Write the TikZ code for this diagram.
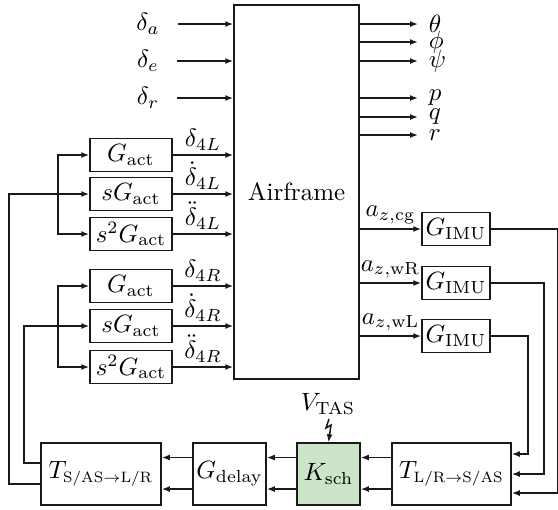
\documentclass[tikz,border=0pt]{standalone}
\usepackage{amsmath}
\usepackage{amssymb}
\usepackage{xcolor}
\definecolor{SchedGreen}{RGB}{204,228,200}
\definecolor{LineBlack}{RGB}{25,25,25}
\usepackage{tikz}
\usetikzlibrary{
    arrows.meta,
    positioning,
    calc
}
\newcommand{\tsub}[1]{\scalebox{0.86}{$\scriptstyle #1$}}

\begin{document}
\begin{tikzpicture}[
    x=0.4pt,y=-0.4pt,
    line width=0.6pt,
    draw=LineBlack,
    >={Latex[length=3.2pt,width=2.4pt]},
    blockbox/.style={
        draw,
        inner sep=0pt,
        minimum width=32.8pt,
        minimum height=13.2pt
    },
    imubox/.style={
        blockbox,
        minimum width=27.2pt
    },
    chainbox/.style={
        draw,
        inner sep=0pt,
        minimum height=24.8pt
    },
    sigin/.style={
        inner sep=0pt
    },
    sigout/.style={
        inner sep=0pt,
        anchor=west
    },
    sigabove/.style={
        midway,
        above,
        inner sep=1.6pt
    }
]
%
    \useasboundingbox (0,0) rectangle (558,509);
%
    \node[
        draw,
        inner sep=0pt,
        minimum width=50pt,
        minimum height=149.6pt
    ] (air) at (296.5,192) {Airframe};
%
    % control surface inputs
    \node[sigin] (da) at (148,24) {$\delta_a$};
    \node[sigin] (de) at (148,61) {$\delta_e$};
    \node[sigin] (dr) at (148,98) {$\delta_r$};
    \foreach \s in {da,de,dr}
        \draw[->, shorten <=7pt] (\s.east) -- (\s -| air.west);
%
    % outputs
    \node[sigout] (theta) at (428,24) {$\theta$};
    \node[sigout] (phi) at (428,42) {$\phi$};
    \node[sigout] (psi) at (428,61) {$\psi$};
    \node[sigout] (pp) at (428,98) {$p$};
    \node[sigout] (qq) at (428,117) {$q$};
    \node[sigout] (rr) at (428,135) {$r$};
    \foreach \s in {theta,phi,psi,pp,qq,rr}
        \draw[->, shorten >=4pt] (\s.west -| air.east) -- (\s.west);
%
    % actuators, left
    \node[blockbox] (GL) at (131,155) {$G_{\text{act}}$};
    \node[blockbox] (sGL) at (131,194) {$sG_{\text{act}}$};
    \node[blockbox] (ssGL) at (131,234) {$s^2G_{\text{act}}$};
    \draw[->] (GL.east) -- (GL -| air.west) node[sigabove] {$\delta_{4L}$};
    \draw[->] (sGL.east) -- (sGL -| air.west) node[sigabove] {$\dot{\delta}_{4L}$};
    \draw[->] (ssGL.east) -- (ssGL -| air.west) node[sigabove] {$\ddot{\delta}_{4L}$};
%
    % actuators, right
    \node[blockbox] (GR) at (131,286) {$G_{\text{act}}$};
    \node[blockbox] (sGR) at (131,326) {$sG_{\text{act}}$};
    \node[blockbox] (ssGR) at (131,367) {$s^2G_{\text{act}}$};
    \draw[->] (GR.east) -- (GR -| air.west) node[sigabove] {$\delta_{4R}$};
    \draw[->] (sGR.east) -- (sGR -| air.west) node[sigabove] {$\dot{\delta}_{4R}$};
    \draw[->] (ssGR.east) -- (ssGR -| air.west) node[sigabove] {$\ddot{\delta}_{4R}$};
%
    \coordinate (brL) at (58,194);
    \coordinate (brR) at (58,326);
    \draw[->] (brL) |- (GL.west);
    \draw[->] (brL) |- (ssGL.west);
    \draw[->] (brR) |- (GR.west);
    \draw[->] (brR) |- (ssGR.west);
%
    % sensors
    \node[imubox] (imuCG) at (456,229) {$G_{\text{IMU}}$};
    \node[imubox] (imuWR) at (456,283) {$G_{\text{IMU}}$};
    \node[imubox] (imuWL) at (456,336) {$G_{\text{IMU}}$};
    \draw[->] (imuCG -| air.east) -- (imuCG.west) node[sigabove] {$a_{z,\text{cg}}$};
    \draw[->] (imuWR -| air.east) -- (imuWR.west) node[sigabove] {$a_{z,\text{wR}}$};
    \draw[->] (imuWL -| air.east) -- (imuWL.west) node[sigabove] {$a_{z,\text{wL}}$};
%
    % feedback chain
    \node[chainbox, minimum width=47.6pt] (tlr) at (451.5,474) {$T_{\tsub{\text{L/R}\rightarrow\text{S/AS}}}$};
    \node[chainbox, minimum width=25.2pt, fill=SchedGreen] (ksch) at (328.5,474) {$K_{\text{sch}}$};
    \node[chainbox, minimum width=29.2pt] (gdel) at (229.5,474) {$G_{\text{delay}}$};
    \node[chainbox, minimum width=48pt] (tsl) at (101,474) {$T_{\tsub{\text{S/AS}\rightarrow\text{L/R}}}$};
%
    \draw[->] (imuCG.east) -- ++(67,0) |- ([yshift=-7.6pt]tlr.east);
    \draw[->] (imuWR.east) -- ++(53,0) |- (tlr.east);
    \draw[->] (imuWL.east) -- ++(37,0) |- ([yshift=8pt]tlr.east);
%
    \foreach \a/\b in {tlr/ksch,ksch/gdel,gdel/tsl} {
        \draw[->] ([yshift=6.6pt]\a.west) -- ([yshift=6.6pt]\b.east);
        \draw[->] ([yshift=-6pt]\a.west) -- ([yshift=-6pt]\b.east);
    }
%
    \draw[->] ([yshift=4.4pt]tsl.west) -- ++(-16,0) |- (sGR.west);
    \draw[->] ([yshift=-4pt]tsl.west) -- ++(-31,0) |- (sGL.west);
%
    % scheduling parameter
    \node (vtas) at (328,404) {$V_{\text{TAS}}$};
    \coordinate (bolt) at (329,419);
    \draw[->] (bolt) -- ++(-3,9) -- ++(5,-3) -- (ksch.north);
%
\end{tikzpicture}
\end{document}
